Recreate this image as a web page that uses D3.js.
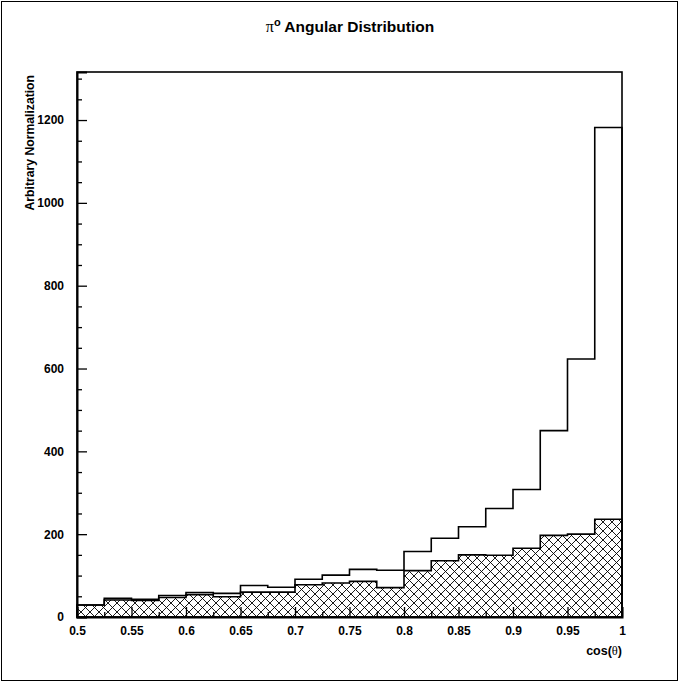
<!DOCTYPE html>
<html>
<head>
<meta charset="utf-8">
<script src="https://cdn.jsdelivr.net/npm/d3@7"></script>
<style>
  html, body { margin: 0; padding: 0; background: #fff; }
  svg { display: block; }
  text { font-family: "Liberation Sans", Arial, Helvetica, sans-serif; font-weight: bold; }
</style>
</head>
<body>
<svg id="chart" width="680" height="683"></svg>
<script>
// ---- data ----
const binEdges = [0.5, 0.525, 0.55, 0.575, 0.6, 0.625, 0.65, 0.675, 0.7, 0.725,
                  0.75, 0.775, 0.8, 0.825, 0.85, 0.875, 0.9, 0.925, 0.95, 0.975, 1.0];
const allPi0 = [29, 45, 43, 52, 59, 57, 76, 72, 91, 101,
                115, 113, 158, 190, 218, 262, 308, 450, 623, 1182];
const selectedPi0 = [29, 41, 40, 47, 54, 49, 60, 60, 78, 82,
                     86, 71, 112, 136, 150, 149, 166, 197, 200, 236];
const xTickValues = [0.5, 0.55, 0.6, 0.65, 0.7, 0.75, 0.8, 0.85, 0.9, 0.95, 1];
const xTickLabels = ["0.5", "0.55", "0.6", "0.65", "0.7", "0.75", "0.8", "0.85", "0.9", "0.95", "1"];
const xMinorTicks = [0.525, 0.575, 0.625, 0.675, 0.725, 0.775, 0.825, 0.875, 0.925, 0.975];
const yTickValues = [0, 200, 400, 600, 800, 1000, 1200];
const yMinorTicks = [50, 100, 150, 250, 300, 350, 450, 500, 550, 650, 700, 750, 850, 900, 950,
                     1050, 1100, 1150, 1250, 1300];
const yMax = 1316;

// ---- layout ----
const svg = d3.select("#chart");
const W = 680, H = 683;
const frame = { left: 77, right: 622, top: 72, bottom: 617 };

const x = d3.scaleLinear().domain([0.5, 1.0]).range([frame.left, frame.right]);
const y = d3.scaleLinear().domain([0, yMax]).range([frame.bottom, frame.top]);

// outer canvas border
svg.append("rect")
  .attr("x", 1.5).attr("y", 1.5).attr("width", W - 4).attr("height", H - 4)
  .attr("fill", "none").attr("stroke", "#000").attr("stroke-width", 1);

// hatch pattern
const defs = svg.append("defs");
const pat = defs.append("pattern")
  .attr("id", "xhatch").attr("patternUnits", "userSpaceOnUse")
  .attr("width", 9).attr("height", 9);
pat.append("path").attr("d", "M0,0 L9,9 M-1,8 L1,10 M8,-1 L10,1")
  .attr("stroke", "#000").attr("stroke-width", 0.9).attr("fill", "none");
pat.append("path").attr("d", "M0,9 L9,0 M-1,1 L1,-1 M8,10 L10,8")
  .attr("stroke", "#000").attr("stroke-width", 0.9).attr("fill", "none");

function stepPoints(values) {
  const pts = [[binEdges[0], 0]];
  values.forEach((v, i) => {
    pts.push([binEdges[i], v]);
    pts.push([binEdges[i + 1], v]);
  });
  pts.push([binEdges[binEdges.length - 1], 0]);
  return pts;
}
const line = d3.line().x(d => x(d[0])).y(d => y(d[1]));

// hatched histogram
svg.append("path")
  .attr("d", line(stepPoints(selectedPi0)) + "Z")
  .attr("fill", "url(#xhatch)")
  .attr("stroke", "#000").attr("stroke-width", 1.6)
  .attr("stroke-linejoin", "miter");

// open histogram
svg.append("path")
  .attr("d", line(stepPoints(allPi0)))
  .attr("fill", "none")
  .attr("stroke", "#000").attr("stroke-width", 1.6)
  .attr("stroke-linejoin", "miter");

// frame
svg.append("rect")
  .attr("x", frame.left).attr("y", frame.top)
  .attr("width", frame.right - frame.left).attr("height", frame.bottom - frame.top)
  .attr("fill", "none").attr("stroke", "#000").attr("stroke-width", 1.6);

// x axis (ticks inward)
const xAxis = d3.axisBottom(x).tickValues(xTickValues)
  .tickFormat((d, i) => xTickLabels[i]).tickSize(-10).tickPadding(9);
const gx = svg.append("g").attr("transform", `translate(0,${frame.bottom})`).call(xAxis);
gx.select(".domain").attr("stroke-width", 2);
gx.selectAll(".tick line").attr("stroke-width", 1.3);
gx.selectAll(".tick text").attr("font-size", 12).attr("fill", "#000")
  .style("font-family", "'Liberation Sans', Arial, sans-serif").style("font-weight", "bold");
const gxm = svg.append("g").attr("transform", `translate(0,${frame.bottom})`)
  .call(d3.axisBottom(x).tickValues(xMinorTicks).tickSize(-5).tickFormat(""));
gxm.select(".domain").remove();
gxm.selectAll(".tick line").attr("stroke-width", 1.3);

// y axis (ticks inward)
const yAxis = d3.axisLeft(y).tickValues(yTickValues).tickFormat(d3.format("d"))
  .tickSize(-10).tickPadding(13);
const gy = svg.append("g").attr("transform", `translate(${frame.left},0)`).call(yAxis);
gy.select(".domain").attr("stroke-width", 2);
gy.selectAll(".tick line").attr("stroke-width", 1.3);
gy.selectAll(".tick text").attr("font-size", 12).attr("fill", "#000")
  .style("font-family", "'Liberation Sans', Arial, sans-serif").style("font-weight", "bold");
const gym = svg.append("g").attr("transform", `translate(${frame.left},0)`)
  .call(d3.axisLeft(y).tickValues(yMinorTicks).tickSize(-5).tickFormat(""));
gym.select(".domain").remove();
gym.selectAll(".tick line").attr("stroke-width", 1.3);

// title
const title = svg.append("text")
  .attr("x", 350).attr("y", 32).attr("text-anchor", "middle")
  .attr("font-size", 15.5);
title.append("tspan").text("π")
  .style("font-family", "'Liberation Serif', 'Times New Roman', serif").style("font-weight", "normal")
  .attr("font-size", 16);
title.append("tspan").text("o").attr("dy", -6).attr("font-size", 11);
title.append("tspan").text(" Angular Distribution").attr("dy", 6);

// y-axis title
svg.append("text")
  .attr("transform", `translate(34,75) rotate(-90)`)
  .attr("text-anchor", "end").attr("font-size", 12.2)
  .text("Arbitrary Normalization");

// x-axis title
const xt = svg.append("text")
  .attr("x", frame.right).attr("y", 655).attr("text-anchor", "end")
  .attr("font-size", 12.5);
xt.append("tspan").text("cos(");
xt.append("tspan").text("θ")
  .style("font-family", "'Liberation Serif', 'Times New Roman', serif").style("font-weight", "normal");
xt.append("tspan").text(")");
</script>
</body>
</html>
